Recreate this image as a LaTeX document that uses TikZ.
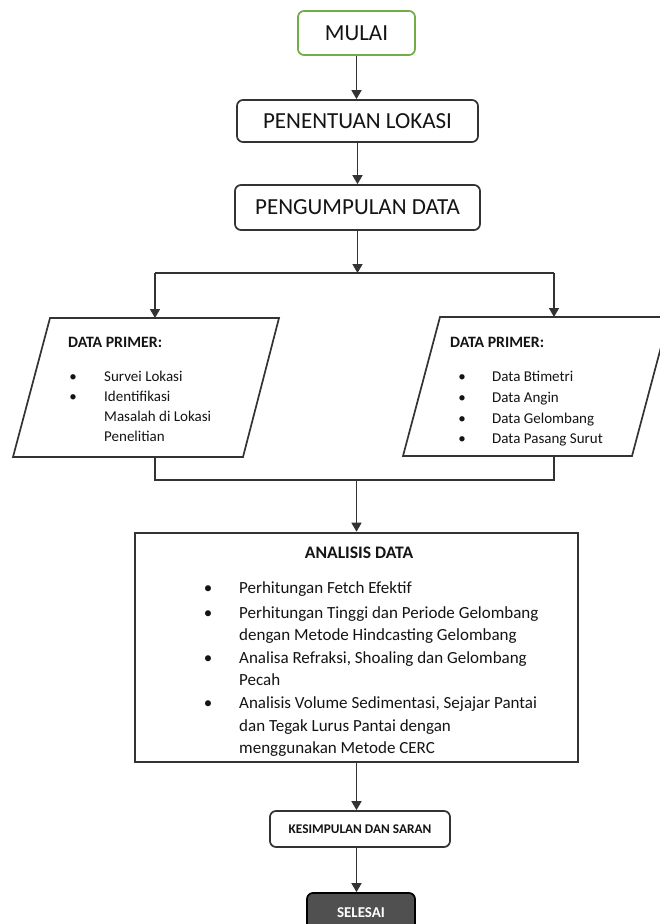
\documentclass[tikz,border=0pt]{standalone}
\usepackage{fontspec}
\setmainfont{Carlito}
\usetikzlibrary{arrows.meta}
\definecolor{linegray}{HTML}{333333}
\definecolor{startgreen}{HTML}{70AD47}
\definecolor{endfill}{HTML}{505050}
\definecolor{txt}{HTML}{141414}
\begin{document}
\begin{tikzpicture}[x=1pt,y=-1pt,
  box/.style={draw=linegray, line width=1.7pt, rounded corners=6pt, fill=white, text=txt, inner sep=0pt},
  bigtxt/.style={font=\fontsize{23}{26}\selectfont},
  arr/.style={draw=linegray, line width=1.5pt, -{Triangle[length=9pt,width=10pt]}},
  ln/.style={draw=linegray, line width=1.5pt},
  para/.style={draw=linegray, line width=1.7pt, fill=white},
  ptxt/.style={anchor=base west, inner sep=0pt, text=txt, font=\fontsize{15}{20}\selectfont},
  pbul/.style={anchor=base, inner sep=0pt, text=txt, font=\fontsize{15}{20}\selectfont},
  ptitle/.style={anchor=base west, inner sep=0pt, text=txt, font=\fontsize{15.8}{20}\selectfont\bfseries},
  atxt/.style={anchor=base west, inner sep=0pt, text=txt, font=\fontsize{17}{22}\selectfont},
  abul/.style={anchor=base, inner sep=0pt, text=txt, font=\fontsize{17}{22}\selectfont}
]
\useasboundingbox (0,0) rectangle (659,924);
\fill[white] (0,0) rectangle (659,924);

% top boxes
\node[box, draw=startgreen, minimum width=117pt, minimum height=44pt, bigtxt] (mulai) at (356.5,33) {MULAI};
\node[box, minimum width=241pt, minimum height=42pt, bigtxt] (lokasi) at (357.5,121) {PENENTUAN LOKASI};
\node[box, minimum width=245pt, minimum height=45pt, bigtxt] (kumpul) at (357.5,207.5) {PENGUMPULAN DATA};

\draw[arr] (mulai.south) -- (mulai.south |- lokasi.north);
\draw[arr] (lokasi.south) -- (lokasi.south |- kumpul.north);

% split
\coordinate (split) at (357.5,273);
\coordinate (sl) at (155,273);
\coordinate (sr) at (554,273);
\coordinate (pltop) at (155,318);
\coordinate (prtop) at (554,317);
\draw[arr] (kumpul.south) -- (split);
\draw[ln] (sl) -- (sr);
\draw[arr] (sl) -- (pltop);
\draw[arr] (sr) -- (prtop);

% parallelograms
\draw[para] (50,318) -- (279,318) -- (243,457) -- (13,457) -- cycle;
\draw[para] (440,317) -- (669,317) -- (632,456) -- (403,456) -- cycle;
\coordinate (plbot) at (155,457);
\coordinate (prbot) at (554,456);

% left text
\node[ptitle] (lt) at (68,347) {DATA PRIMER:};
\node[pbul] (lb1) at (73,381) {•};
\node[ptxt] (l1) at (104,381) {Survei Lokasi};
\node[pbul] (lb2) at (73,401) {•};
\node[ptxt] (l2) at (104,401) {Identifikasi};
\node[ptxt] (l3) at (104,421) {Masalah di Lokasi};
\node[ptxt] (l4) at (104,441) {Penelitian};

% right text
\node[ptitle] (rt) at (450,347) {DATA PRIMER:};
\node[pbul] (rb1) at (462,381) {•};
\node[ptxt] (r1) at (492,381) {Data Btimetri};
\node[pbul] (rb2) at (462,402) {•};
\node[ptxt] (r2) at (492,402) {Data Angin};
\node[pbul] (rb3) at (462,423) {•};
\node[ptxt] (r3) at (492,423) {Data Gelombang};
\node[pbul] (rb4) at (462,443) {•};
\node[ptxt] (r4) at (492,443) {Data Pasang Surut};

% merge
\coordinate (ml) at (155,480);
\coordinate (mr) at (554,480);
\coordinate (merge) at (356.5,480);
\draw[ln] (plbot) -- (ml) -- (mr) -- (prbot);

% analisis
\node[draw=linegray, line width=2.6pt, fill=white, minimum width=443pt, minimum height=229pt, inner sep=0pt] (analisis) at (356.5,647.5) {};
\draw[arr] (merge) -- (analisis.north);
\node[anchor=base, inner sep=0pt, text=txt, font=\fontsize{17.6}{22}\selectfont\bfseries] (at) at (359,558) {ANALISIS DATA};
\node[abul] (ab1) at (208,593) {•};
\node[atxt] (a1) at (239,593) {Perhitungan Fetch Efektif};
\node[abul] (ab2) at (208,618) {•};
\node[atxt] (a2) at (239,618) {Perhitungan Tinggi dan Periode Gelombang};
\node[atxt] (a3) at (239,640) {dengan Metode Hindcasting Gelombang};
\node[abul] (ab3) at (208,663) {•};
\node[atxt] (a4) at (239,663) {Analisa Refraksi, Shoaling dan Gelombang};
\node[atxt] (a5) at (239,685) {Pecah};
\node[abul] (ab4) at (208,708) {•};
\node[atxt] (a6) at (239,708) {Analisis Volume Sedimentasi, Sejajar Pantai};
\node[atxt] (a7) at (239,731) {dan Tegak Lurus Pantai dengan};
\node[atxt] (a8) at (239,753) {menggunakan Metode CERC};

% end
\node[box, minimum width=180pt, minimum height=36pt, font=\fontsize{13.3}{15}\selectfont\bfseries] (kesimpulan) at (360,829) {KESIMPULAN DAN SARAN};
\node[box, draw=black, fill=endfill, text=white, minimum width=108pt, minimum height=40pt, font=\fontsize{15}{17}\selectfont\bfseries] (selesai) at (361,913) {SELESAI};
\draw[arr] (analisis.south) -- (analisis.south |- kesimpulan.north);
\draw[arr] (kesimpulan.south -| analisis.south) -- (analisis.south |- selesai.north);
\end{tikzpicture}
\end{document}
